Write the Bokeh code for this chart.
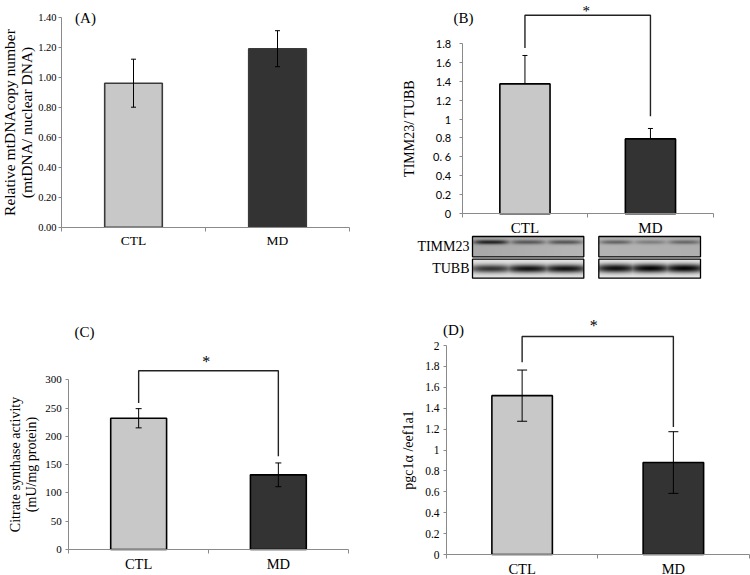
import numpy as np
from bokeh.plotting import figure
from bokeh.models import Range1d, FixedTicker, ColumnDataSource, Whisker, TeeHead, Label
from bokeh.layouts import row, column
from bokeh.core.properties import value
from bokeh.embed import file_html
from bokeh.resources import INLINE

# ---------------- data ----------------
CATS = ["CTL", "MD"]

A_MEAN = [0.96, 1.19]
A_ERR = [0.16, 0.12]
A_TICKS = [0.0, 0.2, 0.4, 0.6, 0.8, 1.0, 1.2, 1.4]
A_TICK_LABELS = ["0.00", "0.20", "0.40", "0.60", "0.80", "1.00", "1.20", "1.40"]

B_MEAN = [1.37, 0.79]
B_ERR = [0.30, 0.11]
B_TICKS = [0.0, 0.2, 0.4, 0.6, 0.8, 1.0, 1.2, 1.4, 1.6, 1.8]
B_TICK_LABELS = ["0", "0.2", "0.4", "0. 6", "0.8", "1", "1.2", "1.4", "1.6", "1.8"]
B_BRACKET = [1.75, 2.095, 1.03]   # left end, top, right end

C_MEAN = [232, 132]
C_ERR = [17, 21]
C_TICKS = [0, 50, 100, 150, 200, 250, 300]
C_TICK_LABELS = ["0", "50", "100", "150", "200", "250", "300"]
C_BRACKET = [259, 316, 165]

D_MEAN = [1.52, 0.88]
D_ERR = [0.245, 0.295]
D_TICKS = [0.0, 0.2, 0.4, 0.6, 0.8, 1.0, 1.2, 1.4, 1.6, 1.8, 2.0]
D_TICK_LABELS = ["0", "0.2", "0.4", "0.6", "0.8", "1", "1.2", "1.4", "1.6", "1.8", "2"]
D_BRACKET = [1.84, 2.086, 1.22]

# blot band strengths per lane
TIMM23_CTL = [0.95, 0.6, 0.65]
TIMM23_MD = [0.55, 0.35, 0.5]
TUBB_CTL = [0.8, 0.95, 0.95]
TUBB_MD = [0.95, 1.0, 1.0]

SERIF = "Liberation Serif"
SANS = "Lato"
LIGHT = "#c8c8c8"
DARK = "#333333"
AXIS_GRAY = "#8a8a8a"


class Panel:
    """Figure whose frame covers the whole figure box; both axes are pinned at 0
    with fixed_location so the placement is fully controlled."""

    def __init__(self, box, x0_px, x2_px, y0_px, yscale):
        fl, ft, fw, fh = box
        self.xs = (x2_px - x0_px) / 2.0
        self.x0 = x0_px
        self.y0 = y0_px
        self.ys = yscale
        xr = Range1d((fl - x0_px) / self.xs, (fl + fw - x0_px) / self.xs)
        yr = Range1d(-(ft + fh - y0_px) / yscale, (y0_px - ft) / yscale)
        self.p = figure(width=fw, height=fh, x_range=xr, y_range=yr,
                        output_backend="svg", toolbar_location=None,
                        min_border_left=0, min_border_right=0,
                        min_border_top=0, min_border_bottom=0)

    def X(self, px):
        return (px - self.x0) / self.xs

    def Y(self, py):
        return (self.y0 - py) / self.ys


def build(panel, means, errs, bound_top, ticks, tick_labels, ylabel, ylabel_size,
          tick_font, tick_size, xlabel_size, ylabel_standoff, tick_standoff,
          cap, lower_err=True, outline="black", line_height=1.05):
    p = panel.p
    p.outline_line_color = None
    p.xgrid.visible = False
    p.ygrid.visible = False
    p.background_fill_color = "white"

    xs = [i + 0.5 for i in range(len(CATS))]
    p.vbar(x=xs, top=means, width=0.4, fill_color=[LIGHT, DARK],
           line_color=outline, line_width=1.6)

    upper = [m + e for m, e in zip(means, errs)]
    lower = [m - e for m, e in zip(means, errs)] if lower_err else list(means)
    src = ColumnDataSource(dict(x=xs, upper=upper, lower=lower))
    w = Whisker(source=src, base="x", upper="upper", lower="lower",
                line_color="black", line_width=1,
                upper_head=TeeHead(size=cap, line_color="black", line_width=1),
                lower_head=TeeHead(size=cap, line_color="black", line_width=1) if lower_err else None,
                level="overlay")
    p.add_layout(w)

    xa = p.xaxis[0]
    xa.fixed_location = 0
    xa.bounds = (0, 2)
    xa.ticker = FixedTicker(ticks=xs, minor_ticks=[0, 1, 2])
    xa.major_label_overrides = dict(zip(xs, CATS))
    xa.major_tick_out = 0
    xa.major_tick_in = 0
    xa.minor_tick_out = 4
    xa.minor_tick_in = 0
    xa.minor_tick_line_color = AXIS_GRAY
    xa.axis_line_color = AXIS_GRAY
    xa.major_label_text_font = SERIF
    xa.major_label_text_font_size = xlabel_size
    xa.major_label_text_color = "black"
    xa.major_label_standoff = 2

    ya = p.yaxis[0]
    ya.fixed_location = 0
    ya.ticker = FixedTicker(ticks=ticks, minor_ticks=[])
    ya.major_label_overrides = dict(zip(ticks, tick_labels))
    ya.bounds = (0, bound_top)
    ya.axis_line_color = AXIS_GRAY
    ya.major_tick_line_color = AXIS_GRAY
    ya.major_tick_out = 3
    ya.major_tick_in = 0
    ya.major_label_text_font = tick_font
    ya.major_label_text_font_size = tick_size
    ya.major_label_text_color = "black"
    ya.major_label_standoff = tick_standoff
    ya.axis_label = ylabel
    ya.axis_label_text_font = SERIF
    ya.axis_label_text_font_size = ylabel_size
    ya.axis_label_text_font_style = "normal"
    ya.axis_label_text_color = "black"
    ya.axis_label_text_line_height = line_height
    ya.axis_label_standoff = ylabel_standoff
    return xs


def add_label(panel, px, py, text, size):
    panel.p.add_layout(Label(x=panel.X(px), y=panel.Y(py), text=text, text_font=SERIF,
                             text_font_size=size, text_align="center",
                             text_baseline="middle", text_color="black"))


def add_bracket(p, xs, br):
    l, t, r = br
    p.line(x=[xs[0], xs[0], xs[1], xs[1]], y=[l, t, t, r], line_color="#222222", line_width=1.4)


# ---------------- panel A ----------------
A = Panel((0, 0, 375, 290), 61, 349, 226.7, 150.0)
xsA = build(A, A_MEAN, A_ERR, 1.4, A_TICKS, A_TICK_LABELS,
            "Relative mtDNAcopy number\n(mtDNA/ nuclear DNA)", "15.5px", SERIF, "10.5px",
            "13.5px", 0, 2, 5, outline="#3a3a3a", line_height=1.0)
add_label(A, 85, 17, "(A)", "15px")

# ---------------- panel B (with blot) ----------------
B = Panel((375, 0, 375, 290), 461.7, 712.7, 213.3, 94.8)
xsB = build(B, B_MEAN, B_ERR, 1.8, B_TICKS, B_TICK_LABELS, "TIMM23/ TUBB", "14px",
            SANS, "11px", "15px", 13, 8, 5, lower_err=False)
add_bracket(B.p, xsB, B_BRACKET)
add_label(B, 463, 17, "(B)", "15px")
add_label(B, 585.7, 10, "*", "15px")


def blot_image(w, h, strengths, center_frac, sigma, bg, depth, bg_slope=0, spread=0.85, soft=3.0):
    xx = np.arange(w) + 0.5
    yy = np.arange(h) + 0.5
    lane = np.zeros(w)
    for i, s in enumerate(strengths):
        c = w * (i + 0.5) / 3
        half = w / 6 * spread
        lane = np.maximum(lane, s / (1 + np.exp((np.abs(xx - c) - half) / soft)))
    prof = np.exp(-((yy - h * center_frac) / sigma) ** 2 / 2)
    base = bg + bg_slope * (xx / w)[None, :]
    g = np.clip(base - np.outer(prof, lane) * depth, 0, 255).astype(np.uint8)
    img = np.empty((h, w), dtype=np.uint32)
    v = img.view(dtype=np.uint8).reshape((h, w, 4))
    v[..., 0] = g
    v[..., 1] = g
    v[..., 2] = g
    v[..., 3] = 255
    return img


# (left, right, top, bottom) px, strengths, band centre (from bottom), sigma, bg, depth, slope, spread, softness
BOXES = [
    (472.0, 583.3, 236.0, 256.3, TIMM23_CTL, 0.72, 1.5, 168, 150, 15, 0.85, 3.0),
    (598.3, 700.0, 236.0, 256.3, TIMM23_MD, 0.72, 1.4, 180, 150, -5, 0.85, 3.0),
    (472.0, 583.3, 258.7, 277.7, TUBB_CTL, 0.50, 3.0, 230, 225, 0, 1.1, 4.5),
    (598.3, 700.0, 258.7, 277.7, TUBB_MD, 0.52, 3.2, 235, 235, 0, 1.12, 4.5),
]
for x0, x1, y0, y1, st, cf, sg, bg, dp, sl, spr, soft in BOXES:
    w = int(round(x1 - x0))
    h = int(round(y1 - y0))
    B.p.image_rgba(image=[blot_image(w, h, st, cf, sg, bg, dp, sl, spr, soft)],
                   x=B.X(x0), y=B.Y(y1), dw=B.X(x1) - B.X(x0), dh=B.Y(y0) - B.Y(y1))
    B.p.quad(left=B.X(x0), right=B.X(x1), bottom=B.Y(y1), top=B.Y(y0),
             fill_color=None, line_color="black", line_width=1.3)

B.p.text(x=[B.X(469), B.X(469)], y=[B.Y(246), B.Y(268)], text=["TIMM23", "TUBB"],
         text_font=value(SERIF), text_font_size="14px", text_align="right",
         text_baseline="middle", text_color="black")

# ---------------- panel C ----------------
C = Panel((0, 290, 375, 285), 68.3, 347.7, 549, 0.5657)
xsC = build(C, C_MEAN, C_ERR, 300, C_TICKS, C_TICK_LABELS,
            "Citrate synthase activity\n(mU/mg protein)", "14px", SERIF, "11px",
            "14.5px", 3, 4, 6)
add_bracket(C.p, xsC, C_BRACKET)
add_label(C, 84, 331, "(C)", "15px")
add_label(C, 205.7, 361, "*", "16px")

# ---------------- panel D ----------------
D = Panel((375, 290, 375, 285), 446, 748.5, 554, 104.5)
xsD = build(D, D_MEAN, D_ERR, 2.0, D_TICKS, D_TICK_LABELS, "pgc1α /eef1a1", "14px",
            SERIF, "11.5px", "14.5px", 6, 4, 10)
add_bracket(D.p, xsD, D_BRACKET)
add_label(D, 453, 329, "(D)", "15px")
add_label(D, 593.3, 325, "*", "16px")

layout = row(column(A.p, C.p), column(B.p, D.p))

with open("out.html", "w") as f:
    f.write(file_html(layout, INLINE))
